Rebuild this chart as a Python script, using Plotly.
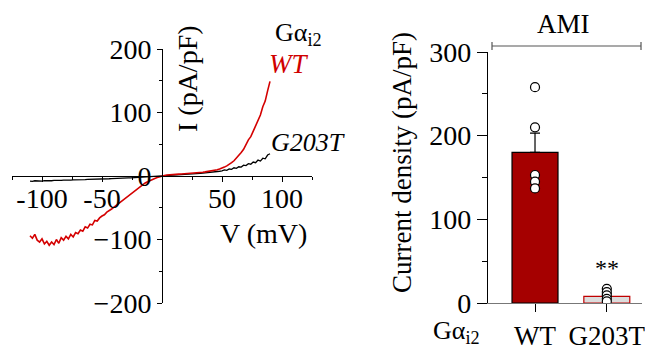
import plotly.graph_objects as go

# ---------------- data ----------------
voltage = list(range(-110, 92, 2))  # ramp protocol, mV

iv_wt = [
    -94, -98, -92, -101, -104, -99, -107, -103, -109, -104,
    -108, -100, -106, -97, -101, -95, -99, -92, -96, -89,
    -91, -85, -87, -80, -82, -76, -77, -70, -71, -66,
    -63, -61, -57, -55, -52, -49, -46, -43, -40, -37,
    -34, -31, -28, -25, -22, -19, -16, -13, -11, -9,
    -7, -5, -4, -2.5, -1, 0, 0.8, 1.5, 2, 2.4,
    2.6, 2.8, 3, 3.2, 3.4, 3.6, 3.9, 4.2, 4.5, 4.8,
    5.2, 5.6, 6, 6.5, 7, 7.6, 8.2, 9, 9.8, 11,
    12, 14, 16, 18, 21, 24, 28, 32, 37, 42,
    50, 57, 62, 71, 77, 88, 96, 109, 118, 134,
    149,
]

iv_g203t = [
    -8, -8.5, -7.5, -8, -7.8, -8.2, -7.4, -7.6, -7.2, -7.5,
    -7, -7.3, -6.8, -7, -6.6, -6.8, -6.4, -6.5, -6.1, -6.2,
    -5.9, -6, -5.6, -5.7, -5.4, -5.4, -5.1, -5.2, -4.9, -4.8,
    -4.6, -4.6, -4.3, -4.3, -4, -4, -3.8, -3.6, -3.5, -3.3,
    -3.1, -3, -2.8, -2.6, -2.5, -2.3, -2.1, -1.9, -1.7, -1.5,
    -1.3, -1, -0.8, -0.5, -0.3, 0, 0.3, 0.6, 0.9, 1.1,
    1.3, 1.5, 1.8, 2, 2.2, 2.5, 2.7, 3, 3.2, 3.5,
    3.8, 4, 4.4, 4.7, 5, 5.5, 5.9, 6.4, 7, 7.5,
    8.2, 9.5, 8.8, 11, 10.5, 13, 12, 14.5, 14, 17,
    16.5, 19.5, 18.5, 22, 21, 25, 23.5, 28, 27, 33,
    35,
]

iv_xticks = [-100, -50, 0, 50, 100]
iv_xticktext = ["-100", "-50", "", "50", "100"]
iv_yticks = [-200, -100, 0, 100, 200]

groups = ["WT", "G203T"]
density_mean = [180, 8]
density_sem = [23, 3]
wt_points = [258, 210, 153, 145, 137]
g203t_points = [17, 13, 9, 5, 2]
bar_yticks = [0, 100, 200, 300]

FONT = "Liberation Serif, Times New Roman, serif"
W, H = 645, 351

def px(x):
    return x / W

def py(y):
    return 1 - y / H

fig = go.Figure()

# ---------------- left: I-V curves ----------------
fig.add_trace(go.Scatter(x=voltage, y=iv_g203t, mode="lines",
                         line=dict(color="black", width=1.3),
                         xaxis="x", yaxis="y", showlegend=False))
fig.add_trace(go.Scatter(x=voltage, y=iv_wt, mode="lines",
                         line=dict(color="#d40000", width=1.6),
                         xaxis="x", yaxis="y", showlegend=False))

# ---------------- right: bars ----------------
fig.add_trace(go.Bar(x=groups, y=density_mean, width=0.64,
                     marker=dict(color=["#a50000", "#dcdcdc"],
                                 line=dict(color=["black", "#c00000"], width=1.2)),
                     error_y=dict(type="data", symmetric=False, array=density_sem,
                                  arrayminus=[0, 0], color="black", thickness=1.2, width=5),
                     xaxis="x2", yaxis="y2", showlegend=False))
fig.add_trace(go.Scatter(x=[groups[0]] * len(wt_points), y=wt_points, mode="markers",
                         marker=dict(size=9, color="white", line=dict(color="black", width=1.2)),
                         xaxis="x2", yaxis="y2", showlegend=False))
fig.add_trace(go.Scatter(x=[groups[1]] * len(g203t_points), y=g203t_points, mode="markers",
                         marker=dict(size=9, color="white", line=dict(color="black", width=1.2)),
                         xaxis="x2", yaxis="y2", showlegend=False))

tickfont = dict(family=FONT, size=28, color="black")

fig.update_layout(
    template="none",
    width=W, height=H,
    margin=dict(l=0, r=0, t=0, b=0, pad=0),
    paper_bgcolor="white", plot_bgcolor="rgba(0,0,0,0)",
    font=dict(family=FONT, color="black"),
    showlegend=False,
    xaxis=dict(domain=[px(12), px(312)], range=[-125, 125], anchor="free",
               position=py(176), showline=True, linecolor="black", linewidth=1,
               ticks="outside", ticklen=5, tickcolor="black", ticklabelstandoff=-8,
               tickvals=iv_xticks, ticktext=iv_xticktext, tickfont=tickfont,
               minor=dict(dtick=25, tick0=0, ticks="outside", ticklen=3, tickcolor="black"),
               showgrid=False, zeroline=False, fixedrange=True, automargin=False),
    yaxis=dict(domain=[(H - 303) / H, py(49)], range=[-200, 200],
               anchor="free", position=px(162), showline=True, linecolor="black",
               linewidth=1, ticks="outside", ticklen=5, tickcolor="black",
               tickvals=iv_yticks, tickfont=tickfont,
               minor=dict(dtick=50, tick0=0, ticks="outside", ticklen=3, tickcolor="black"),
               showgrid=False, zeroline=False, fixedrange=True, automargin=False),
    xaxis2=dict(domain=[px(479), px(642)], range=[-0.78, 1.49], anchor="y2",
                type="category", showline=True, linecolor="#777777", linewidth=1.2,
                ticks="outside", ticklen=8, tickcolor="black",
                tickfont=dict(family=FONT, size=27, color="black"),
                showgrid=False, zeroline=False, fixedrange=True, automargin=False),
    yaxis2=dict(domain=[(H - 303) / H, py(52)], range=[0, 300], anchor="free",
                position=px(487), showline=True, linecolor="black", linewidth=1.2,
                ticks="outside", ticklen=10, tickcolor="black",
                tickvals=bar_yticks, tickfont=dict(family=FONT, size=28, color="black"),
                minor=dict(dtick=50, tick0=0, ticks="outside", ticklen=5, tickcolor="black"),
                showgrid=False, zeroline=False, fixedrange=True, automargin=False),
    bargap=0.3,
)

ann = [
    dict(text="I (pA/pF)", x=px(188), y=py(79), textangle=-90, font=dict(size=28)),
    dict(text="V (mV)", x=px(263), y=py(233), font=dict(size=28)),
    dict(text="Gα<sub>i2</sub>", x=px(273), y=py(34), xanchor="left", font=dict(size=26)),
    dict(text="<i>WT</i>", x=px(267), y=py(64), xanchor="left",
         font=dict(size=27, color="#d00000")),
    dict(text="<i>G203T</i>", x=px(269), y=py(142), xanchor="left", font=dict(size=26)),
    dict(text="Current density (pA/pF)", x=px(402), y=py(163), textangle=-90,
         font=dict(size=27)),
    dict(text="AMI", x=px(563), y=py(24), font=dict(size=27)),
    dict(text="Gα<sub>i2</sub>", x=px(431), y=py(332), xanchor="left", font=dict(size=26)),
]
for a in ann:
    a.setdefault("xref", "paper")
    a.setdefault("yref", "paper")
    a.setdefault("showarrow", False)
    a.setdefault("xanchor", "center")
    a.setdefault("yanchor", "middle")
    a["font"] = dict(family=FONT, color=a["font"].get("color", "black"), size=a["font"]["size"])
fig.update_layout(annotations=ann)
fig.add_annotation(text="**", x=groups[1], y=42, xref="x2", yref="y2", showarrow=False,
                   font=dict(family=FONT, size=24, color="black"), yanchor="middle")

# AMI bracket
line = dict(color="#555555", width=1.2)
fig.add_shape(type="line", xref="paper", yref="paper", x0=px(492), x1=px(641),
              y0=py(46), y1=py(46), line=line)
fig.add_shape(type="line", xref="paper", yref="paper", x0=px(492), x1=px(492),
              y0=py(42), y1=py(50), line=line)
fig.add_shape(type="line", xref="paper", yref="paper", x0=px(641), x1=px(641),
              y0=py(42), y1=py(50), line=line)

fig.write_html("out.html")
